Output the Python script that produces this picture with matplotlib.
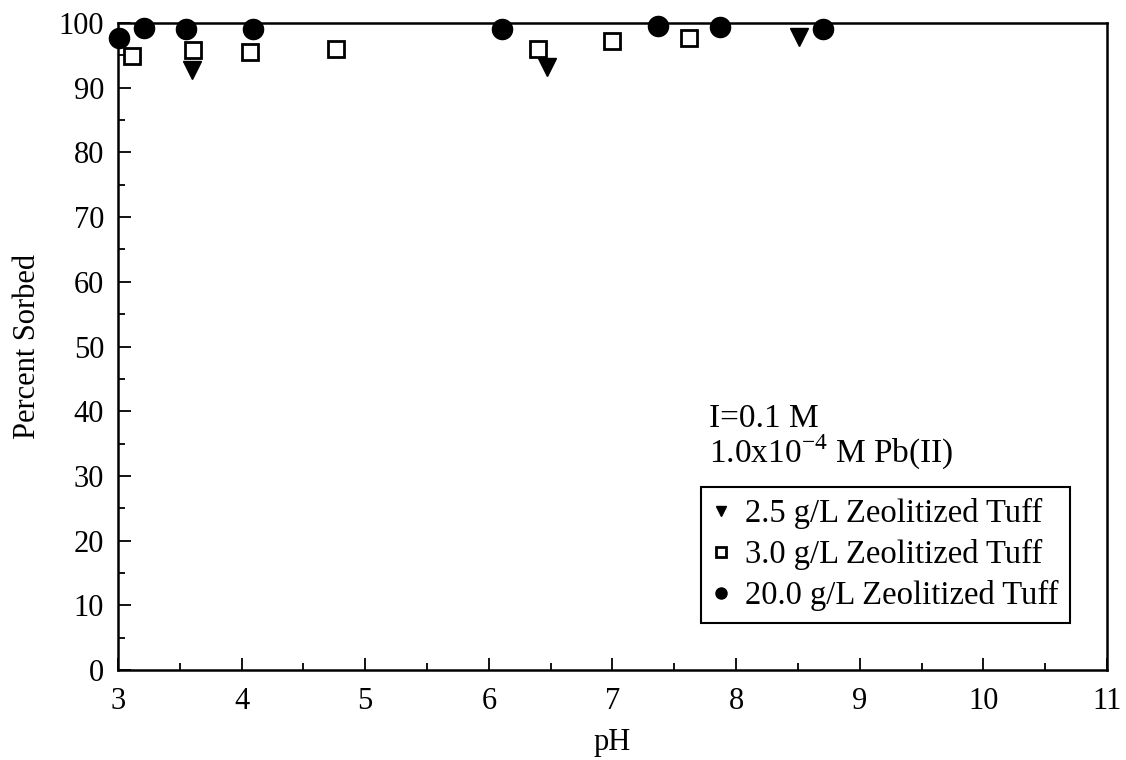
import numpy as np
import matplotlib
matplotlib.use('Agg')
import matplotlib.pyplot as plt
from matplotlib.ticker import MultipleLocator

plt.rcParams['font.family'] = ['Liberation Serif', 'DejaVu Serif']
plt.rcParams['mathtext.fontset'] = 'custom'
plt.rcParams['mathtext.rm'] = 'Liberation Serif'

# 2.5 g/L zeolitized tuff
ph_25 = [3.60, 6.47, 8.51]
sorb_25 = [92.7, 93.2, 97.8]

# 3.0 g/L zeolitized tuff
ph_30 = [3.11, 3.61, 4.07, 4.76, 6.40, 7.00, 7.62]
sorb_30 = [94.9, 95.8, 95.5, 96.0, 96.0, 97.2, 97.7]

# 20.0 g/L zeolitized tuff
ph_200 = [3.01, 3.21, 3.55, 4.09, 6.11, 7.37, 7.87, 8.70]
sorb_200 = [97.7, 99.2, 99.1, 99.1, 99.1, 99.5, 99.4, 99.1]

labels = ['2.5 g/L Zeolitized Tuff', '3.0 g/L Zeolitized Tuff',
          '20.0 g/L Zeolitized Tuff']

fig = plt.figure(figsize=(11.26, 7.6), dpi=100)
ax = fig.add_axes([0.1048, 0.1184, 0.8783, 0.8513])

ax.plot(ph_25, sorb_25, linestyle='none', marker='v', markersize=13,
        color='black', label=labels[0], clip_on=False, zorder=3)
ax.plot(ph_30, sorb_30, linestyle='none', marker='s', markersize=12,
        markerfacecolor='white', markeredgecolor='black',
        markeredgewidth=2, label=labels[1], clip_on=False, zorder=3)
ax.plot(ph_200, sorb_200, linestyle='none', marker='o', markersize=14.5,
        color='black', label=labels[2], clip_on=False, zorder=4)

ax.set_xlim(3, 11)
ax.set_ylim(0, 100)
ax.xaxis.set_major_locator(MultipleLocator(1))
ax.xaxis.set_minor_locator(MultipleLocator(0.5))
ax.yaxis.set_major_locator(MultipleLocator(10))
ax.yaxis.set_minor_locator(MultipleLocator(5))
ax.tick_params(which='both', direction='in', top=False, right=False,
               labelsize=22, width=1.3)
ax.tick_params(which='major', length=9)
ax.tick_params(which='minor', length=5)
ax.tick_params(axis='x', pad=12)
ax.tick_params(axis='y', pad=10)
for sp in ax.spines.values():
    sp.set_linewidth(1.8)

ax.set_xlabel('pH', fontsize=22, labelpad=9)
ax.set_ylabel('Percent Sorbed', fontsize=22, labelpad=12)

fig.text(0.630, 0.438, 'I=0.1 M', fontsize=24)
fig.text(0.630, 0.391, r'1.0x10$^{\mathregular{-4}}$ M Pb(II)', fontsize=24)

leg = ax.legend(loc='upper left', bbox_to_anchor=(0.6226, 0.3592),
                bbox_transform=fig.transFigure, borderaxespad=0,
                fontsize=23.5, markerscale=0.55, handlelength=0.5,
                handletextpad=0.5, labelspacing=0.3, borderpad=0.35,
                fancybox=False, frameon=True, framealpha=1)
leg.get_frame().set_edgecolor('black')
leg.get_frame().set_linewidth(1.5)

fig.savefig('out.png', dpi=100)
